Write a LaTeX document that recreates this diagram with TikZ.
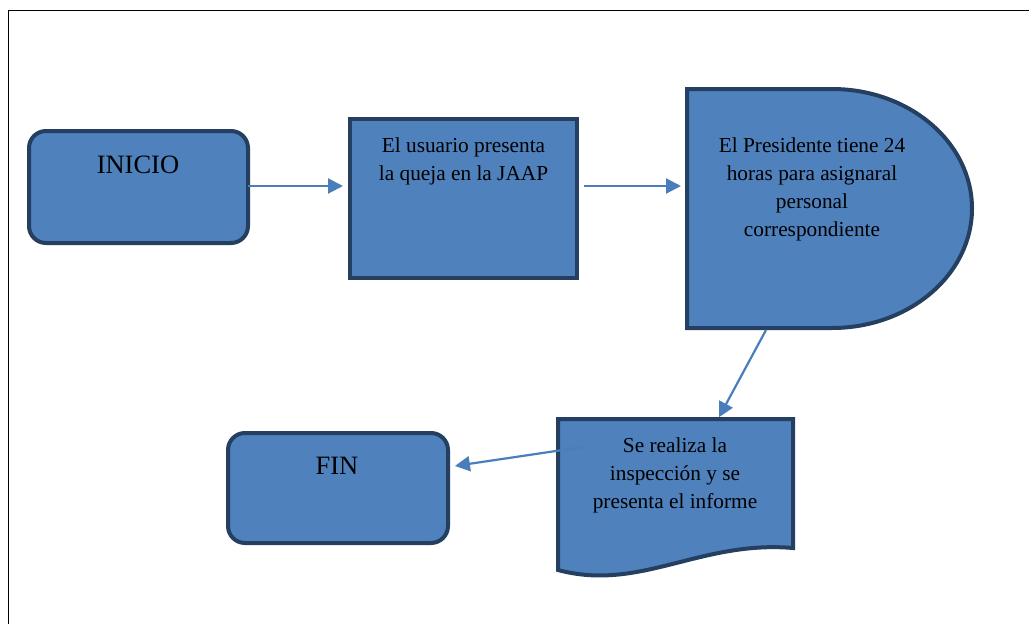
\documentclass[tikz,border=0pt]{standalone}
\usepackage{fontspec}
\setmainfont{Liberation Serif}
\usetikzlibrary{arrows.meta}
\definecolor{relleno}{HTML}{4F81BD}
\definecolor{borde}{HTML}{243F60}
\definecolor{flecha}{HTML}{4A7EBB}
\tikzset{
  caja/.style={draw=borde, fill=relleno, line width=4pt},
  redonda/.style={caja, rectangle, rounded corners=17pt, minimum width=219pt, minimum height=112pt, inner sep=0pt},
  texto/.style={align=center, inner sep=0pt, anchor=north, font=\fontsize{21.3}{28}\selectfont},
  grande/.style={inner sep=0pt, anchor=base, font=\fontsize{26.5}{32}\selectfont},
  flujo/.style={draw=flecha, line width=2.2pt, -{Triangle[length=15pt,width=15pt]}}
}
\begin{document}
\begin{tikzpicture}[x=1pt,y=-1pt]
            \useasboundingbox (0,0) rectangle (1029,624);
            \draw[line width=1pt] (8,624) -- (8,10) -- (1029,10);

            \node[redonda] (inicio) at (138.5,187) {};
            \coordinate (inicio e) at (248,186);
            \node[grande] (inicio t) at (138,173) {INICIO};

            \node[caja, minimum width=227pt, minimum height=159pt, inner sep=0pt] (usuario) at (463.5,198.5) {};
            \coordinate (usuario w) at (350,186);
            \coordinate (usuario e) at (577,186);
            \node[texto] (usuario t) at (463.5,137.5) {El usuario presenta\\la queja en la JAAP};

            \draw[caja] (687,89) -- (832,89) arc[start angle=-90, end angle=90, x radius=140, y radius=119.5] -- (687,328) -- cycle;
            \coordinate (presidente w) at (687,186);
            \coordinate (presidente s) at (766,330);
            \node[texto] (presidente t) at (812,137.5) {El Presidente tiene 24\\horas para asignaral\\personal\\correspondiente};

            \draw[caja] (558,419) -- (793,419) -- (793,548) .. controls (700,540) and (640,592) .. (558,570) -- cycle;
            \coordinate (informe n) at (718,419);
            \coordinate (informe w) at (583,447);
            \node[texto] (informe t) at (675,437.5) {Se realiza la\\inspección y se\\presenta el informe};

            \node[redonda, minimum width=220pt, minimum height=110pt] (fin) at (338,488) {};
            \coordinate (fin e) at (448,467);
            \node[grande] (fin t) at (337,474) {FIN};

            \draw[flujo, shorten >=7pt] (inicio e) -- (usuario w);
            \draw[flujo, shorten <=7pt, shorten >=6pt] (usuario e) -- (presidente w);
            \draw[flujo, shorten >=2pt] (presidente s) -- (informe n);
            \draw[flujo, shorten >=7pt] (informe w) -- (fin e);
\end{tikzpicture}
\end{document}
